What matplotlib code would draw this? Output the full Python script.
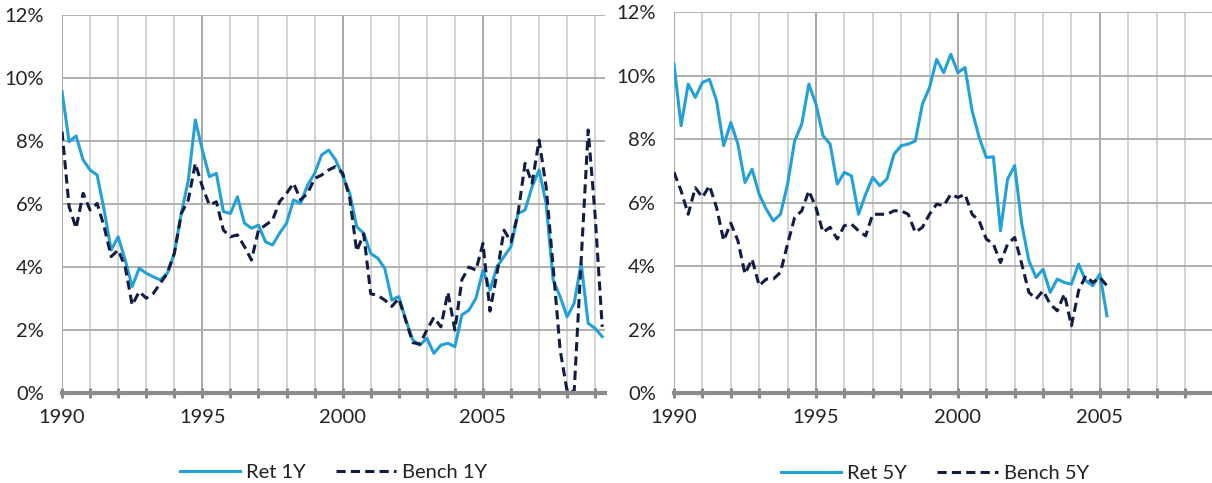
import numpy as np
import matplotlib
matplotlib.use("Agg")
import matplotlib.pyplot as plt
from matplotlib.ticker import FuncFormatter, MultipleLocator

plt.rcParams['font.family'] = ['Lato', 'DejaVu Sans']

# quarterly series, first point 1990 Q1
ret_1y = [9.57, 7.98, 8.16, 7.40, 7.08, 6.92, 5.81, 4.54, 4.96, 4.22, 3.38, 3.96,
          3.80, 3.69, 3.59, 3.80, 4.43, 5.70, 6.76, 8.67, 7.71, 6.87, 6.97, 5.76,
          5.70, 6.23, 5.39, 5.23, 5.33, 4.80, 4.70, 5.07, 5.39, 6.13, 6.02, 6.60,
          6.97, 7.56, 7.71, 7.40, 6.90, 6.34, 5.28, 5.07, 4.43, 4.28, 3.96, 2.95,
          3.06, 2.32, 1.68, 1.52, 1.74, 1.26, 1.52, 1.58, 1.47, 2.48, 2.63, 3.01,
          3.90, 3.27, 4.01, 4.33, 4.65, 5.70, 5.81, 6.55, 7.08, 6.02, 3.59, 3.06,
          2.42, 2.85, 4.12, 2.21, 2.05, 1.79]
bench_1y = [8.30, 5.92, 5.23, 6.34, 5.81, 6.02, 5.28, 4.33, 4.54, 4.01, 2.79, 3.22,
            3.01, 3.16, 3.48, 3.80, 4.43, 5.70, 6.13, 7.29, 6.55, 5.97, 6.07, 5.17,
            4.96, 5.02, 4.65, 4.22, 5.17, 5.33, 5.49, 6.07, 6.34, 6.66, 6.13, 6.34,
            6.81, 6.92, 7.08, 7.19, 6.98, 6.20, 4.50, 5.05, 3.15, 3.10, 2.95, 2.75,
            3.00, 2.30, 1.60, 1.55, 2.00, 2.40, 2.10, 3.20, 2.00, 3.60, 4.00, 3.90,
            4.75, 2.60, 3.80, 5.17, 4.80, 5.70, 7.29, 6.66, 8.03, 6.55, 4.01, 1.37,
            0.05, 0.05, 4.22, 8.35, 5.60, 2.10]
ret_5y = [10.36, 8.42, 9.73, 9.31, 9.78, 9.88, 9.20, 7.79, 8.52, 7.84, 6.63, 7.05,
          6.26, 5.79, 5.42, 5.63, 6.58, 7.94, 8.47, 9.73, 9.10, 8.10, 7.84, 6.58,
          6.95, 6.84, 5.63, 6.26, 6.79, 6.53, 6.74, 7.52, 7.79, 7.84, 7.94, 9.10,
          9.62, 10.51, 10.09, 10.67, 10.09, 10.25, 8.89, 8.05, 7.42, 7.44, 5.11, 6.74,
          7.16, 5.32, 4.17, 3.64, 3.90, 3.17, 3.59, 3.48, 3.43, 4.06, 3.54, 3.38,
          3.75, 2.43]
bench_5y = [6.95, 6.37, 5.63, 6.47, 6.16, 6.53, 5.84, 4.80, 5.35, 4.80, 3.75, 4.22,
            3.38, 3.59, 3.59, 3.80, 4.69, 5.53, 5.74, 6.37, 5.84, 5.06, 5.22, 4.85,
            5.27, 5.32, 5.11, 4.95, 5.63, 5.63, 5.63, 5.74, 5.74, 5.63, 5.06, 5.22,
            5.63, 5.95, 5.90, 6.26, 6.16, 6.26, 5.63, 5.42, 4.85, 4.69, 4.11, 4.69,
            4.90, 4.06, 3.17, 2.96, 3.22, 2.80, 2.59, 3.12, 2.12, 3.22, 3.69, 3.48,
            3.64, 3.38]

START_YEAR = 1990
BLUE = "#22A0DA"
NAVY = "#111D45"
DASH = (0, (3.0, 1.7))


def quarters(series):
    return START_YEAR + 0.25 * np.arange(len(series))


def style_axis(ax, xmax):
    ax.set_xlim(START_YEAR, xmax)
    ax.set_ylim(0, 12)
    ax.set_xticks([1990, 1995, 2000, 2005])
    ax.xaxis.set_minor_locator(MultipleLocator(1))
    ax.yaxis.set_major_locator(MultipleLocator(2))
    ax.yaxis.set_major_formatter(FuncFormatter(lambda v, p: f"{v:.0f}%"))
    ax.grid(True, which="major", axis="x", color="#A0A0A0", lw=1.3)
    ax.grid(True, which="minor", axis="x", color="#D0D0D0", lw=1.3)
    ax.grid(True, which="major", axis="y", color="#B0B0B0", lw=1.4)
    ax.set_axisbelow(True)
    for s in ("top", "right", "left"):
        ax.spines[s].set_visible(False)
    ax.spines["bottom"].set_color("#8C8C8C")
    ax.spines["bottom"].set_linewidth(3)
    ax.tick_params(axis="x", which="both", direction="inout", length=7, width=2.2,
                   color="#8C8C8C", labelsize=14.5, pad=8, labelcolor="#222222")
    ax.tick_params(axis="y", length=0, pad=13, labelsize=14.5, labelcolor="#222222")


fig = plt.figure(figsize=(12.12, 4.83), dpi=100)
ax1 = fig.add_axes([0.0512, 0.1863, 0.4480, 0.7826])
ax2 = fig.add_axes([0.5561, 0.1863, 0.4439, 0.7888])

ax1.plot(quarters(ret_1y), ret_1y, color=BLUE, lw=2.2, label="Ret 1Y")
ax1.plot(quarters(bench_1y), bench_1y, color=NAVY, lw=2.2, ls=DASH, label="Bench 1Y")
style_axis(ax1, 2009.35)

ax2.plot(quarters(ret_5y), ret_5y, color=BLUE, lw=2.2, label="Ret 5Y")
ax2.plot(quarters(bench_5y), bench_5y, color=NAVY, lw=2.2, ls=DASH, label="Bench 5Y")
style_axis(ax2, 2008.95)

for ax, cx in ((ax1, 0.5), (ax2, 0.485)):
    leg = ax.legend(loc="upper center", bbox_to_anchor=(cx, -0.14), ncol=2, frameon=False,
                    fontsize=14.5, handlelength=3.0, columnspacing=1.5, handletextpad=0.3)
    for t in leg.get_texts():
        t.set_color("#222222")

fig.savefig("out.png", dpi=100)
